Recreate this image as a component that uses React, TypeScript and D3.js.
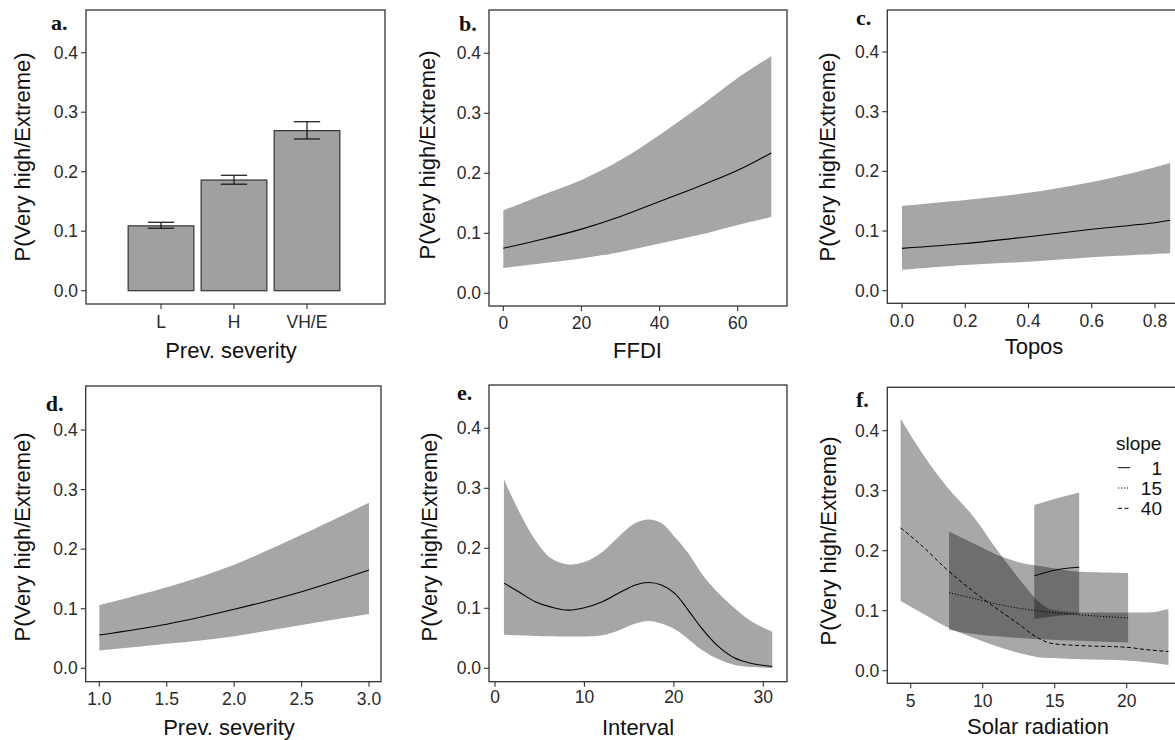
import React from "react";
import * as d3 from "d3";

const W = 1175;
const H = 740;

// a. previous severity (categorical)
const sevCategories = ["L", "H", "VH/E"];
const sevProb = [0.109, 0.186, 0.269];
const sevLow = [0.105, 0.179, 0.255];
const sevHigh = [0.115, 0.194, 0.284];

// b. FFDI
const ffdiX = [0, 10, 20, 30, 40, 50, 60, 68.6];
const ffdiFit = [0.075, 0.09, 0.107, 0.128, 0.153, 0.178, 0.205, 0.234];
const ffdiLow = [0.042, 0.05, 0.058, 0.069, 0.083, 0.097, 0.114, 0.127];
const ffdiHigh = [0.138, 0.164, 0.189, 0.222, 0.264, 0.31, 0.359, 0.395];

// c. Topos
const toposX = [0, 0.2, 0.4, 0.6, 0.8, 0.848];
const toposFit = [0.071, 0.079, 0.0905, 0.103, 0.114, 0.118];
const toposLow = [0.035, 0.043, 0.0486, 0.056, 0.0615, 0.0627];
const toposHigh = [0.142, 0.152, 0.164, 0.182, 0.207, 0.214];

// d. previous severity (continuous)
const prevX = [1, 1.5, 2, 2.5, 3];
const prevFit = [0.056, 0.074, 0.099, 0.1286, 0.165];
const prevLow = [0.0296, 0.041, 0.054, 0.0727, 0.091];
const prevHigh = [0.106, 0.136, 0.174, 0.224, 0.278];

// e. interval
const intX = [1, 2.6, 4.5, 6.3, 8.2, 10, 12, 13.8, 15.7, 17.2, 18.6, 20.1, 21.6, 23.1, 25, 26.8, 28.7, 31];
const intFit = [0.142, 0.128, 0.111, 0.102, 0.097, 0.101, 0.111, 0.125, 0.139, 0.143, 0.139, 0.125, 0.097, 0.067, 0.036, 0.017, 0.008, 0.003];
const intHigh = [0.315, 0.264, 0.214, 0.183, 0.173, 0.177, 0.194, 0.219, 0.242, 0.248, 0.242, 0.219, 0.192, 0.158, 0.125, 0.1, 0.078, 0.061];
const intLow = [0.056, 0.055, 0.054, 0.0535, 0.053, 0.053, 0.055, 0.063, 0.0745, 0.079, 0.0745, 0.065, 0.049, 0.031, 0.015, 0.0055, 0.002, 0.0005];

// f. solar radiation by slope
const slopeLevels = ["1", "15", "40"];
const solar1X = [13.58, 15.1, 16.7];
const solar1Fit = [0.158, 0.168, 0.1725];
const solar1Low = [0.086, 0.091, 0.095];
const solar1High = [0.276, 0.287, 0.297];
const solar15X = [7.66, 9.8, 11.2, 12.8, 14.4, 16.76, 20.1];
const solar15Fit = [0.13, 0.118, 0.11, 0.103, 0.098, 0.093, 0.088];
const solar15Low = [0.068, 0.06, 0.057, 0.054, 0.052, 0.05, 0.047];
const solar15High = [0.232, 0.207, 0.191, 0.179, 0.173, 0.165, 0.163];
const solar40X = [4.3, 5.65, 7.5, 9.35, 11, 12.6, 13.75, 14.9, 16.8, 20, 21.4, 22.9];
const solar40Fit = [0.238, 0.211, 0.169, 0.132, 0.103, 0.076, 0.0556, 0.045, 0.0418, 0.039, 0.035, 0.032];
const solar40Low = [0.116, 0.098, 0.073, 0.055, 0.0405, 0.029, 0.023, 0.021, 0.019, 0.017, 0.014, 0.0095];
const solar40High = [0.42, 0.368, 0.307, 0.257, 0.201, 0.151, 0.118, 0.101, 0.097, 0.097, 0.097, 0.103];

const yTicks = [0, 0.1, 0.2, 0.3, 0.4];

const SANS = "'Liberation Sans', Arial, sans-serif";
const SERIF = "'Liberation Serif', 'Times New Roman', serif";
const INK = "#333";
const BAND = "#a6a6a6";

const layouts = {
  a: { left: 86, right: 385, top: 10, bottom: 304, y0: 290.7, y4: 52.7, letter: [51, 30], yTitle: [22, 157], xTitle: [231, 358], tickBase: 328 },
  b: { left: 489, right: 787, top: 10, bottom: 306, y0: 293.3, y4: 53.3, letter: [459, 31], yTitle: [427, 155], xTitle: [637.5, 358], tickBase: 329 },
  c: { left: 887.3, right: 1185, top: 10, bottom: 303.3, y0: 290.7, y4: 52, letter: [856, 25], yTitle: [827, 157], xTitle: [1034, 354], tickBase: 327 },
  d: { left: 85.7, right: 381, top: 386, bottom: 681.7, y0: 668.3, y4: 430, letter: [45.7, 411], yTitle: [22, 537], xTitle: [229, 735], tickBase: 705 },
  e: { left: 489, right: 787, top: 385, bottom: 681.7, y0: 668.3, y4: 428.3, letter: [457, 400], yTitle: [429, 537], xTitle: [638, 735], tickBase: 703 },
  f: { left: 887.3, right: 1185, top: 387.3, bottom: 683.3, y0: 670.7, y4: 430.7, letter: [856, 406.7], yTitle: [828, 541], xTitle: [1038, 734], tickBase: 707 },
};

const yScaleFor = (l) => d3.scaleLinear().domain([0, 0.4]).range([l.y0, l.y4]);

const Frame = ({ l, xTicks, letter, title }) => {
  const y = yScaleFor(l);
  return (
    <g>
      <rect x={l.left} y={l.top} width={l.right - l.left} height={l.bottom - l.top} fill="none" stroke={INK} strokeWidth={1.3} />
      {yTicks.map((t) => (
        <g key={"y" + t}>
          <line x1={l.left - 5} x2={l.left} y1={y(t)} y2={y(t)} stroke={INK} strokeWidth={1.1} />
          <text x={l.left - 8} y={y(t)} dy="0.35em" textAnchor="end" fontSize={17.5} fontFamily={SANS} fill="#2a2a2a">
            {d3.format(".1f")(t)}
          </text>
        </g>
      ))}
      {xTicks.map((t) => (
        <g key={"x" + t.label}>
          <line x1={t.pos} x2={t.pos} y1={l.bottom} y2={l.bottom + 5} stroke={INK} strokeWidth={1.1} />
          <text x={t.pos} y={l.tickBase} textAnchor="middle" fontSize={17.5} fontFamily={SANS} fill="#2a2a2a">
            {t.label}
          </text>
        </g>
      ))}
      <text x={l.letter[0]} y={l.letter[1]} fontSize={22} fontWeight="bold" fontFamily={SERIF} fill="#111">
        {letter}
      </text>
      <text transform={`translate(${l.yTitle[0]},${l.yTitle[1]}) rotate(-90)`} dy="0.35em" textAnchor="middle" fontSize={22} fontFamily={SANS} fill="#111">
        P(Very high/Extreme)
      </text>
      <text x={l.xTitle[0]} y={l.xTitle[1]} textAnchor="middle" fontSize={22} fontFamily={SANS} fill="#111">
        {title}
      </text>
    </g>
  );
};

const ribbon = (xs, lo, hi, x, y, curve) =>
  d3
    .area()
    .x((i) => x(xs[i]))
    .y0((i) => y(lo[i]))
    .y1((i) => y(hi[i]))
    .curve(curve)(d3.range(xs.length));

const fitLine = (xs, fit, x, y, curve) =>
  d3
    .line()
    .x((i) => x(xs[i]))
    .y((i) => y(fit[i]))
    .curve(curve)(d3.range(xs.length));

const Clip = ({ id, l }) => (
  <clipPath id={id}>
    <rect x={l.left} y={l.top} width={l.right - l.left} height={l.bottom - l.top} />
  </clipPath>
);

const smooth = d3.curveCatmullRom.alpha(0.5);

const CurvePanel = ({ id, l, x, xTickVals, fmt, xs, fit, lo, hi, letter, title }) => {
  const y = yScaleFor(l);
  return (
    <g>
      <Clip id={id} l={l} />
      <g clipPath={`url(#${id})`}>
        <path d={ribbon(xs, lo, hi, x, y, smooth)} fill={BAND} />
        <path d={fitLine(xs, fit, x, y, smooth)} fill="none" stroke="#000" strokeWidth={1.1} />
      </g>
      <Frame l={l} letter={letter} title={title} xTicks={xTickVals.map((t) => ({ pos: x(t), label: fmt(t) }))} />
    </g>
  );
};

const BarPanel = () => {
  const l = layouts.a;
  const y = yScaleFor(l);
  const x = d3.scaleBand().domain(sevCategories).range([124.5, 343.5]).paddingInner(0.1).paddingOuter(0.05);
  const ew = x.bandwidth() * 0.4;
  return (
    <g>
      {sevCategories.map((c, i) => {
        const cx = x(c) + x.bandwidth() / 2;
        return (
          <g key={c}>
            <rect x={x(c)} y={y(sevProb[i])} width={x.bandwidth()} height={y(0) - y(sevProb[i])} fill="#a0a0a0" stroke={INK} strokeWidth={1.2} />
            <g stroke="#111" strokeWidth={1.2}>
              <line x1={cx} x2={cx} y1={y(sevLow[i])} y2={y(sevHigh[i])} />
              <line x1={cx - ew / 2} x2={cx + ew / 2} y1={y(sevLow[i])} y2={y(sevLow[i])} />
              <line x1={cx - ew / 2} x2={cx + ew / 2} y1={y(sevHigh[i])} y2={y(sevHigh[i])} />
            </g>
          </g>
        );
      })}
      <Frame l={l} letter="a." title="Prev. severity" xTicks={sevCategories.map((c) => ({ pos: x(c) + x.bandwidth() / 2, label: c }))} />
    </g>
  );
};

const SolarPanel = () => {
  const l = layouts.f;
  const y = yScaleFor(l);
  const x = d3.scaleLinear().domain([5, 20]).range([910.7, 1126.7]);
  const series = [
    { xs: solar1X, fit: solar1Fit, lo: solar1Low, hi: solar1High, dash: null },
    { xs: solar15X, fit: solar15Fit, lo: solar15Low, hi: solar15High, dash: "1.2,1.8" },
    { xs: solar40X, fit: solar40Fit, lo: solar40Low, hi: solar40High, dash: "4,2.5" },
  ];
  const legendY = d3.scalePoint().domain(slopeLevels).range([467.7, 508.3]);
  return (
    <g>
      <Clip id="clip-f" l={l} />
      <g clipPath="url(#clip-f)">
        {series.map((s, i) => (
          <path key={"r" + i} d={ribbon(s.xs, s.lo, s.hi, x, y, d3.curveMonotoneX)} fill="#000" fillOpacity={0.34} />
        ))}
        {series.map((s, i) => (
          <path key={"l" + i} d={fitLine(s.xs, s.fit, x, y, d3.curveMonotoneX)} fill="none" stroke="#000" strokeWidth={1} strokeDasharray={s.dash || undefined} />
        ))}
      </g>
      <Frame l={l} letter="f." title="Solar radiation" xTicks={[5, 10, 15, 20].map((t) => ({ pos: x(t), label: String(t) }))} />
      <text x={1116} y={450} fontSize={19} fontFamily={SANS} fill="#111">slope</text>
      {slopeLevels.map((s, i) => (
        <g key={s}>
          <line x1={1118} x2={1130} y1={legendY(s)} y2={legendY(s)} stroke="#000" strokeWidth={1} strokeDasharray={series[i].dash || undefined} />
          <text x={1162} y={legendY(s)} dy="0.36em" textAnchor="end" fontSize={19} fontFamily={SANS} fill="#111">{s}</text>
        </g>
      ))}
    </g>
  );
};

export default function App() {
  const xb = d3.scaleLinear().domain([0, 60]).range([503.3, 737.7]);
  const xc = d3.scaleLinear().domain([0, 0.8]).range([902, 1155]);
  const xd = d3.scaleLinear().domain([1, 3]).range([99.3, 369]);
  const xe = d3.scaleLinear().domain([0, 30]).range([495, 763.3]);
  return (
    <svg width={W} height={H} style={{ position: "absolute", left: 0, top: 0, background: "#fff" }}>
      <rect width={W} height={H} fill="#fff" />
      <BarPanel />
      <CurvePanel id="clip-b" l={layouts.b} x={xb} xTickVals={[0, 20, 40, 60]} fmt={d3.format("d")} xs={ffdiX} fit={ffdiFit} lo={ffdiLow} hi={ffdiHigh} letter="b." title="FFDI" />
      <CurvePanel id="clip-c" l={layouts.c} x={xc} xTickVals={[0, 0.2, 0.4, 0.6, 0.8]} fmt={d3.format(".1f")} xs={toposX} fit={toposFit} lo={toposLow} hi={toposHigh} letter="c." title="Topos" />
      <CurvePanel id="clip-d" l={layouts.d} x={xd} xTickVals={[1, 1.5, 2, 2.5, 3]} fmt={d3.format(".1f")} xs={prevX} fit={prevFit} lo={prevLow} hi={prevHigh} letter="d." title="Prev. severity" />
      <CurvePanel id="clip-e" l={layouts.e} x={xe} xTickVals={[0, 10, 20, 30]} fmt={d3.format("d")} xs={intX} fit={intFit} lo={intLow} hi={intHigh} letter="e." title="Interval" />
      <SolarPanel />
    </svg>
  );
}
